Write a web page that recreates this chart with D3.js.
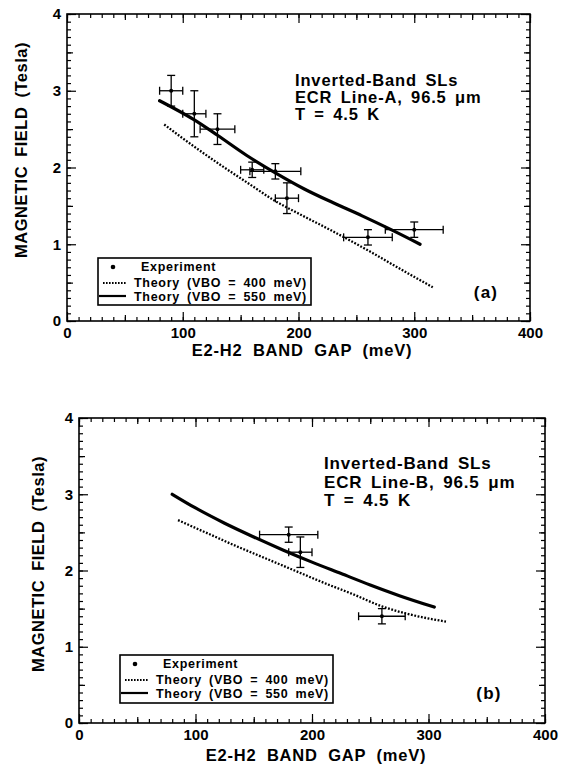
<!DOCTYPE html>
<html>
<head>
<meta charset="utf-8">
<script src="https://cdn.jsdelivr.net/npm/d3@7"></script>
<style>
  body { margin: 0; background: #fff; }
  svg text { font-family: "Liberation Sans", Arial, Helvetica, sans-serif; font-weight: bold; fill: #000; }
</style>
</head>
<body>
<svg id="fig" width="562" height="771"></svg>
<script>
// ---- shared axis values ----
const gapTicks = [0, 100, 200, 300, 400];
const fieldTicks = [0, 1, 2, 3, 4];
const legendLabels = ["Experiment", "Theory (VBO = 400 meV)", "Theory (VBO = 550 meV)"];
const xTitle = "E2-H2 BAND GAP (meV)";
const yTitle = "MAGNETIC FIELD (Tesla)";

// ---- panel (a): ECR Line-A ----
const titleA = ["Inverted-Band SLs", "ECR Line-A, 96.5 \u03bcm", "T = 4.5 K"];
const expA_gap      = [90, 110, 130, 160, 180, 190, 260, 300];
const expA_field    = [3.0, 2.7, 2.5, 1.97, 1.95, 1.6, 1.09, 1.19];
const expA_gapErr   = [10, 10, 15, 10, 22, 10, 21, 25];
const expA_fieldErr = [0.2, 0.3, 0.2, 0.1, 0.1, 0.2, 0.1, 0.1];
const theoryA400_gap   = [84, 100, 130, 160, 178, 200, 227, 260, 290, 316];
const theoryA400_field = [2.56, 2.38, 2.06, 1.76, 1.58, 1.40, 1.19, 0.92, 0.66, 0.44];
const theoryA550_gap   = [80, 110, 130, 155, 180, 205, 230, 255, 280, 305];
const theoryA550_field = [2.87, 2.62, 2.42, 2.16, 1.93, 1.72, 1.54, 1.37, 1.19, 1.0];

// ---- panel (b): ECR Line-B ----
const titleB = ["Inverted-Band SLs", "ECR Line-B, 96.5 \u03bcm", "T = 4.5 K"];
const expB_gap      = [180, 190, 260];
const expB_field    = [2.47, 2.24, 1.40];
const expB_gapErr   = [25, 10, 20];
const expB_fieldErr = [0.1, 0.2, 0.1];
const theoryB400_gap   = [85, 110, 135, 160, 185, 210, 235, 260, 285, 315];
const theoryB400_field = [2.66, 2.49, 2.32, 2.16, 2.0, 1.84, 1.69, 1.53, 1.42, 1.33];
const theoryB550_gap   = [80, 100, 125, 150, 175, 200, 225, 250, 275, 305];
const theoryB550_field = [3.0, 2.82, 2.62, 2.44, 2.27, 2.11, 1.96, 1.81, 1.67, 1.52];

const svg = d3.select("#fig");

function zip(xs, ys) { return xs.map((v, i) => [v, ys[i]]); }

// centre a start-anchored text on cx using its measured width (spacing included)
function centerAt(sel, cx) {
  const w = sel.node().getBBox().width;
  sel.attr("x", cx - w / 2);
  return sel;
}

function drawPanel(p) {
  const x = d3.scaleLinear().domain([0, 400]).range([p.left, p.right]);
  const y = d3.scaleLinear().domain([0, 4]).range([p.bottom, p.top]);
  const g = svg.append("g");

  // frame
  g.append("rect")
    .attr("x", p.left).attr("y", p.top)
    .attr("width", p.right - p.left).attr("height", p.bottom - p.top)
    .attr("fill", "none").attr("stroke", "#000").attr("stroke-width", 1.6);

  // inward ticks on all four sides: minor, half-step, and labelled major
  const tickSets = [
    { xv: d3.range(0, 401, 10), yv: d3.range(0, 4.001, 0.1), size: 4 },
    { xv: d3.range(50, 400, 100), yv: d3.range(0.5, 4, 1), size: 6 },
    { xv: gapTicks, yv: fieldTicks, size: 9 }
  ];
  tickSets.forEach((t, i) => {
    const labelled = i === 2;
    const axes = [
      { ax: d3.axisBottom(x).tickValues(t.xv), tr: `translate(0,${p.bottom})`, lab: labelled },
      { ax: d3.axisTop(x).tickValues(t.xv), tr: `translate(0,${p.top})`, lab: false },
      { ax: d3.axisLeft(y).tickValues(t.yv), tr: `translate(${p.left},0)`, lab: labelled },
      { ax: d3.axisRight(y).tickValues(t.yv), tr: `translate(${p.right},0)`, lab: false }
    ];
    axes.forEach(a => {
      a.ax.tickSize(-t.size).tickPadding(6).tickFormat(a.lab ? d3.format("d") : "");
      const ag = g.append("g").attr("transform", a.tr).call(a.ax);
      ag.select(".domain").remove();
      ag.selectAll("line").attr("stroke-width", 1.2);
      ag.attr("font-size", 15);
    });
  });

  // axis titles
  const xt = g.append("text")
    .attr("y", p.xTitleY)
    .style("font-size", "16.5px").style("letter-spacing", "0.8px").style("word-spacing", "5px")
    .text(xTitle);
  centerAt(xt, p.xTitleX);
  const ytg = g.append("g").attr("transform", `translate(${p.yTitleX},${p.yTitleY}) rotate(-90)`);
  const yt = ytg.append("text")
    .attr("y", 0).attr("dy", "0.36em")
    .style("font-size", "16.5px").style("letter-spacing", "0.5px").style("word-spacing", "4px")
    .text(yTitle);
  centerAt(yt, 0);

  // theory curves
  const line = d3.line().x(d => x(d[0])).y(d => y(d[1])).curve(d3.curveMonotoneX);
  g.append("path").datum(zip(p.t400g, p.t400f))
    .attr("d", line).attr("fill", "none").attr("stroke", "#000")
    .attr("stroke-width", 2.3).attr("stroke-dasharray", "1.8,1.6");
  g.append("path").datum(zip(p.t550g, p.t550f))
    .attr("d", line).attr("fill", "none").attr("stroke", "#000")
    .attr("stroke-width", 3.2).attr("stroke-linecap", "round");

  // experimental points with error bars
  const cap = 4;
  const pts = p.eg.map((v, i) => ({ g: v, f: p.ef[i], dg: p.edg[i], df: p.edf[i] }));
  const pg = g.append("g").attr("stroke", "#000").attr("stroke-width", 1.3).attr("fill", "none");
  pts.forEach(d => {
    const cx = x(d.g), cy = y(d.f);
    const x0 = x(d.g - d.dg), x1 = x(d.g + d.dg);
    const y0 = y(d.f - d.df), y1 = y(d.f + d.df);
    pg.append("line").attr("x1", x0).attr("x2", x1).attr("y1", cy).attr("y2", cy);
    pg.append("line").attr("x1", x0).attr("x2", x0).attr("y1", cy - cap).attr("y2", cy + cap);
    pg.append("line").attr("x1", x1).attr("x2", x1).attr("y1", cy - cap).attr("y2", cy + cap);
    pg.append("line").attr("x1", cx).attr("x2", cx).attr("y1", y0).attr("y2", y1);
    pg.append("line").attr("x1", cx - cap).attr("x2", cx + cap).attr("y1", y0).attr("y2", y0);
    pg.append("line").attr("x1", cx - cap).attr("x2", cx + cap).attr("y1", y1).attr("y2", y1);
    g.append("circle").attr("cx", cx).attr("cy", cy).attr("r", 2).attr("fill", "#000");
  });

  // annotation block
  p.title.forEach((s, i) => {
    g.append("text")
      .attr("x", p.annX).attr("y", p.annY + i * p.annStep)
      .style("font-size", p.annSize + "px").style("letter-spacing", "0.85px").style("word-spacing", "3px")
      .text(s);
  });

  // panel tag
  const tg = g.append("text")
    .attr("y", p.tagY)
    .style("font-size", "17px").style("letter-spacing", "1.2px")
    .text(p.tag);
  centerAt(tg, p.tagX);

  // legend
  const L = p.leg;
  g.append("rect").attr("x", L.x).attr("y", L.y).attr("width", L.w).attr("height", L.h)
    .attr("fill", "#fff").attr("stroke", "#000").attr("stroke-width", 1.6);
  const legStyle = sel => sel.style("font-size", "12.5px").style("letter-spacing", "0.7px").style("word-spacing", "3px");
  g.append("circle").attr("cx", L.x + 15).attr("cy", L.y + 9).attr("r", 2.3).attr("fill", "#000");
  legStyle(g.append("text").attr("x", L.x + 43).attr("y", L.y + 13)).text(legendLabels[0]);
  g.append("line").attr("x1", L.x + 5).attr("x2", L.x + 28).attr("y1", L.y + 25).attr("y2", L.y + 25)
    .attr("stroke", "#000").attr("stroke-width", 1.8).attr("stroke-dasharray", "1.6,1.4");
  legStyle(g.append("text").attr("x", L.x + 36).attr("y", L.y + 29)).text(legendLabels[1]);
  g.append("line").attr("x1", L.x + 1).attr("x2", L.x + 28).attr("y1", L.y + 38).attr("y2", L.y + 38)
    .attr("stroke", "#000").attr("stroke-width", 2.2);
  legStyle(g.append("text").attr("x", L.x + 36).attr("y", L.y + 43)).text(legendLabels[2]);
}

drawPanel({
  left: 67, right: 530, top: 14, bottom: 321,
  xTitleX: 302, xTitleY: 356, yTitleX: 21, yTitleY: 150,
  t400g: theoryA400_gap, t400f: theoryA400_field,
  t550g: theoryA550_gap, t550f: theoryA550_field,
  eg: expA_gap, ef: expA_field, edg: expA_gapErr, edf: expA_fieldErr,
  title: titleA, annX: 295, annY: 86, annStep: 17, annSize: 16.5,
  tag: "(a)", tagX: 486, tagY: 298,
  leg: { x: 98, y: 258, w: 213, h: 47 }
});

drawPanel({
  left: 79, right: 545, top: 418, bottom: 723,
  xTitleX: 316, xTitleY: 761, yTitleX: 38, yTitleY: 564,
  t400g: theoryB400_gap, t400f: theoryB400_field,
  t550g: theoryB550_gap, t550f: theoryB550_field,
  eg: expB_gap, ef: expB_field, edg: expB_gapErr, edf: expB_fieldErr,
  title: titleB, annX: 324, annY: 469, annStep: 18.5, annSize: 17,
  tag: "(b)", tagX: 489, tagY: 699,
  leg: { x: 120, y: 655, w: 213, h: 48 }
});
</script>
</body>
</html>
